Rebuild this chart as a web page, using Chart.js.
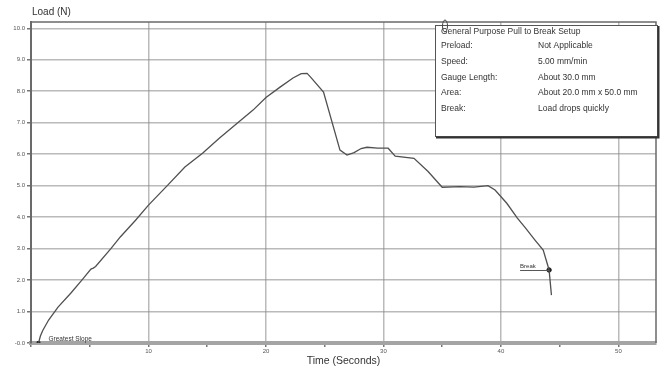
<!DOCTYPE html>
<html>
<head>
<meta charset="utf-8">
<script src="https://cdn.jsdelivr.net/npm/chart.js@4.4.0/dist/chart.umd.min.js"></script>
<style>
  html, body { margin: 0; padding: 0; background: #fff; }
  #wrap { width: 662px; height: 367px; }
</style>
</head>
<body>
<div id="wrap"><canvas id="loadChart" width="662" height="367"></canvas></div>
<script>
// values
const timeSec = [0.64, 0.8, 1.0, 1.5, 2.3, 3.4, 4.4, 5.1, 5.3, 5.5, 6.8, 7.6, 8.9, 10.0, 11.6, 13.1, 14.6, 16.0, 17.6, 18.9,
    20.0, 21.2, 22.3, 23.0, 23.5, 23.8, 24.9, 26.3, 26.9, 27.5, 28.1, 28.6, 29.5, 30.4, 31.0, 32.6, 33.8, 35.0, 36.5, 37.7,
    38.9, 39.5, 40.5, 41.4, 42.1, 42.9, 43.6, 44.1, 44.3];
const loadN = [0, 0.22, 0.4, 0.73, 1.14, 1.59, 2.03, 2.35, 2.38, 2.43, 3.0, 3.37, 3.9, 4.38, 5.0, 5.59, 6.03, 6.5, 7.0, 7.4,
    7.8, 8.13, 8.42, 8.56, 8.57, 8.45, 7.97, 6.13, 5.97, 6.05, 6.18, 6.22, 6.19, 6.19, 5.94, 5.87, 5.45, 4.95, 4.97, 4.95,
    5.0, 4.86, 4.44, 3.97, 3.65, 3.27, 2.95, 2.32, 1.52];

const breakPoint = { x: 44.1, y: 2.32 };
const slopePoint = { x: 0.64, y: 0 };

const setupTitle = 'General Purpose Pull to Break Setup';
const setupKeys = ['Preload:', 'Speed:', 'Gauge Length:', 'Area:', 'Break:'];
const setupValues = ['Not Applicable', '5.00 mm/min', 'About 30.0 mm', 'About 20.0 mm x 50.0 mm', 'Load drops quickly'];

const FONT = "'Liberation Sans', Arial, sans-serif";

const extras = {
    id: 'extras',
    afterDraw(chart) {
        const ctx = chart.ctx;
        const a = chart.chartArea;
        const xs = chart.scales.x, ys = chart.scales.y;
        ctx.save();

        // top and right frame
        ctx.strokeStyle = '#6a6a6a';
        ctx.lineWidth = 1.5;
        ctx.beginPath();
        ctx.moveTo(a.left, a.top);
        ctx.lineTo(a.right, a.top);
        ctx.lineTo(a.right, a.bottom);
        ctx.stroke();

        // axis caption at top
        ctx.fillStyle = '#333';
        ctx.font = '10px ' + FONT;
        ctx.textBaseline = 'middle';
        ctx.fillText('Load (N)', 32, 12);

        // setup box
        const bx = 435, by = 25, bw = 222, bh = 111;
        ctx.fillStyle = '#fff';
        ctx.fillRect(bx, by, bw, bh);
        ctx.strokeStyle = '#555';
        ctx.lineWidth = 1;
        ctx.strokeRect(bx + 0.5, by + 0.5, bw, bh);
        ctx.strokeStyle = '#333';
        ctx.lineWidth = 2;
        ctx.beginPath();
        ctx.moveTo(bx + bw + 1.5, by + 1);
        ctx.lineTo(bx + bw + 1.5, by + bh + 1.5);
        ctx.lineTo(bx + 1, by + bh + 1.5);
        ctx.stroke();
        // little clip glyph
        ctx.strokeStyle = '#444';
        ctx.lineWidth = 1;
        ctx.beginPath();
        ctx.ellipse(445, 26, 2.5, 6, 0, 0, Math.PI * 2);
        ctx.stroke();

        ctx.fillStyle = '#333';
        ctx.font = '8.5px ' + FONT;
        ctx.fillText(setupTitle, 441, 32);
        setupKeys.forEach((k, i) => {
            const y = 46 + i * 15.7;
            ctx.fillText(k, 441, y);
            ctx.fillText(setupValues[i], 538, y);
        });

        // break label
        const px = xs.getPixelForValue(breakPoint.x), py = ys.getPixelForValue(breakPoint.y);
        ctx.font = '6px ' + FONT;
        ctx.fillStyle = '#333';
        ctx.textBaseline = 'alphabetic';
        ctx.fillText('Break', px - 29, py - 2);
        ctx.strokeStyle = '#555';
        ctx.lineWidth = 1;
        ctx.beginPath();
        ctx.moveTo(px - 29, py + 0.5);
        ctx.lineTo(px, py + 0.5);
        ctx.stroke();

        // greatest slope label
        const sx = xs.getPixelForValue(slopePoint.x), sy = ys.getPixelForValue(slopePoint.y);
        ctx.font = '6.5px ' + FONT;
        ctx.textBaseline = 'middle';
        ctx.fillText('Greatest Slope', sx + 10, sy - 4);

        ctx.restore();
    }
};

new Chart(document.getElementById('loadChart'), {
    type: 'line',
    data: {
        datasets: [
            {
                data: timeSec.map((t, i) => ({ x: t, y: loadN[i] })),
                borderColor: '#505050',
                borderWidth: 1.3,
                pointRadius: 0,
                tension: 0
            },
            {
                data: [breakPoint],
                showLine: false,
                pointRadius: 2.2,
                pointStyle: 'circle',
                backgroundColor: '#222',
                borderColor: '#222'
            },
            {
                data: [slopePoint],
                showLine: false,
                pointRadius: 2,
                pointStyle: 'rect',
                backgroundColor: '#222',
                borderColor: '#222'
            }
        ]
    },
    options: {
        responsive: false,
        animation: false,
        layout: { padding: { top: 22, right: 6, left: 0, bottom: 0 } },
        plugins: {
            legend: { display: false },
            tooltip: { enabled: false }
        },
        scales: {
            x: {
                type: 'linear',
                min: 0,
                max: 53.2,
                afterFit: s => { s.height = 24; },
                border: { color: '#a4a4a4', width: 4 },
                grid: {
                    color: c => (c.tick && c.tick.value % 10 === 0) ? 'rgba(140,140,140,0.6)' : 'rgba(0,0,0,0)',
                    tickColor: '#777',
                    lineWidth: 1.5,
                    tickLength: 4
                },
                ticks: {
                    stepSize: 5,
                    includeBounds: false,
                    autoSkip: false,
                    maxRotation: 0,
                    padding: 1,
                    color: '#555',
                    font: { size: 6, family: FONT },
                    callback: v => (v > 0 && v % 10 === 0) ? String(v) : ''
                },
                title: {
                    display: true,
                    text: 'Time (Seconds)',
                    color: '#333',
                    padding: 0,
                    font: { size: 10.5, family: FONT }
                }
            },
            y: {
                min: 0,
                max: 10.2,
                afterFit: s => { s.width = 31; },
                border: { color: '#6a6a6a', width: 2 },
                grid: {
                    color: 'rgba(140,140,140,0.6)',
                    tickColor: '#777',
                    lineWidth: 1.5,
                    tickLength: 4
                },
                ticks: {
                    stepSize: 1,
                    includeBounds: false,
                    padding: 2,
                    color: '#555',
                    font: { size: 6, family: FONT },
                    callback: v => v === 0 ? '-0.0' : v.toFixed(1)
                }
            }
        }
    },
    plugins: [extras]
});
</script>
</body>
</html>
